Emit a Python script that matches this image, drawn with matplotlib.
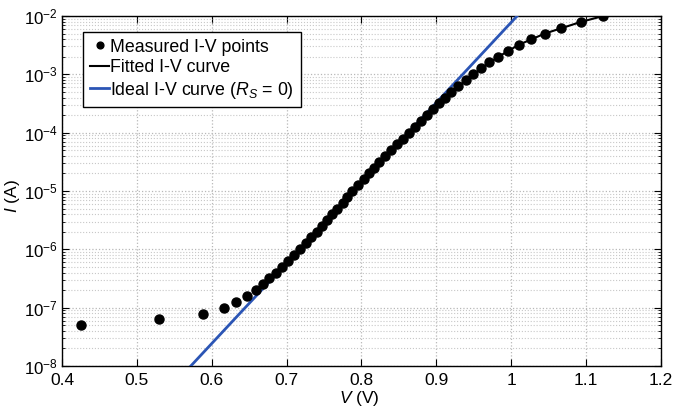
import matplotlib
matplotlib.use("Agg")
import matplotlib.pyplot as plt
from matplotlib.ticker import LogLocator, FixedLocator

plt.rcParams['font.family'] = ['Liberation Sans', 'DejaVu Sans']
plt.rcParams['mathtext.fontset'] = 'custom'
plt.rcParams['mathtext.rm'] = 'Liberation Sans'
plt.rcParams['mathtext.it'] = 'Liberation Sans:italic'
plt.rcParams['mathtext.bf'] = 'Liberation Sans:bold'

# Measured I-V points (V in volts, I in amps)
meas_v = [0.425, 0.530, 0.589, 0.616, 0.633, 0.647, 0.659, 0.668, 0.677, 0.686,
          0.694, 0.702, 0.710, 0.718, 0.726, 0.733, 0.740, 0.747, 0.754, 0.761,
          0.768, 0.775, 0.781, 0.788, 0.796, 0.803, 0.810, 0.817, 0.824, 0.832,
          0.840, 0.848, 0.855, 0.863, 0.872, 0.880, 0.888, 0.895, 0.903, 0.911,
          0.920, 0.929, 0.940, 0.949, 0.960, 0.971, 0.983, 0.996, 1.010, 1.027,
          1.045, 1.067, 1.093, 1.123]
meas_i = [5.0e-8, 6.3e-8, 7.9e-8, 1.0e-7, 1.26e-7, 1.6e-7, 2.0e-7, 2.5e-7, 3.2e-7, 4.0e-7,
          5.0e-7, 6.3e-7, 7.9e-7, 1.0e-6, 1.26e-6, 1.6e-6, 2.0e-6, 2.5e-6, 3.2e-6, 4.0e-6,
          5.0e-6, 6.3e-6, 7.9e-6, 1.0e-5, 1.26e-5, 1.6e-5, 2.0e-5, 2.5e-5, 3.2e-5, 4.0e-5,
          5.0e-5, 6.3e-5, 7.9e-5, 1.0e-4, 1.26e-4, 1.6e-4, 2.0e-4, 2.5e-4, 3.2e-4, 4.0e-4,
          5.0e-4, 6.3e-4, 7.9e-4, 1.0e-3, 1.26e-3, 1.6e-3, 2.0e-3, 2.5e-3, 3.2e-3, 4.0e-3,
          5.0e-3, 6.3e-3, 7.9e-3, 1.0e-2]

# Fitted I-V curve
fit_v = [0.668, 0.718, 0.788, 0.863, 0.895, 0.920, 0.940, 0.960, 0.983, 1.010,
         1.045, 1.093, 1.123]
fit_i = [2.5e-7, 1.0e-6, 1.0e-5, 1.0e-4, 2.5e-4, 5.0e-4, 7.9e-4, 1.26e-3, 2.0e-3, 3.2e-3,
         5.0e-3, 7.9e-3, 1.0e-2]

# Ideal I-V curve (Rs = 0)
ideal_v = [0.572, 1.008]
ideal_i = [1.0e-8, 1.0e-2]

x_ticks = [0.4, 0.5, 0.6, 0.7, 0.8, 0.9, 1.0, 1.1, 1.2]
x_labels = ['0.4', '0.5', '0.6', '0.7', '0.8', '0.9', '1', '1.1', '1.2']

fig = plt.figure(figsize=(6.75, 4.07), dpi=100)
ax = fig.add_axes([0.0919, 0.1007, 0.8871, 0.86])

blue = '#2b55b5'
ax.plot(fit_v, fit_i, color='black', lw=1.5, zorder=3, label='Fitted I-V curve')
ax.plot(ideal_v, ideal_i, color=blue, lw=2.0, zorder=4, label='Ideal I-V curve ($R_S$ = 0)')
ax.plot(meas_v, meas_i, 'o', color='black', ms=6.5, zorder=5, label='Measured I-V points')

ax.set_yscale('log')
ax.set_xlim(0.4, 1.2)
ax.set_ylim(1e-8, 1e-2)
ax.xaxis.set_major_locator(FixedLocator(x_ticks))
ax.set_xticklabels(x_labels)
ax.yaxis.set_major_locator(LogLocator(base=10, numticks=20))
ax.yaxis.set_minor_locator(LogLocator(base=10, subs=range(2, 10), numticks=20))

ax.grid(True, which='major', color='#b8b8b8', linestyle=':', linewidth=0.9)
ax.grid(True, which='minor', axis='y', color='#c8c8c8', linestyle=':', linewidth=0.8)

ax.tick_params(which='both', direction='in', top=True, right=True, labelsize=12.5, color='black')
ax.tick_params(axis='y', labelsize=12.2, pad=3)
ax.tick_params(which='major', length=5, width=0.8)
ax.tick_params(which='minor', length=2.5, width=0.6)
ax.tick_params(axis='x', pad=5)
for s in ax.spines.values():
    s.set_linewidth(1.0)

ax.set_xlabel('$\\it{V}$ (V)', fontsize=12.5)
ax.set_ylabel('$\\it{I}$ (A)', fontsize=12.5)
ax.xaxis.set_label_coords(0.496, -0.066)
ax.yaxis.set_label_coords(-0.082, 0.486)
ax.yaxis.label.set_va('center')

handles, labels = ax.get_legend_handles_labels()
order = [2, 0, 1]
leg = ax.legend([handles[i] for i in order], [labels[i] for i in order],
                loc='upper left', bbox_to_anchor=(0.035, 0.955), fontsize=12.8,
                handlelength=1.1, handletextpad=0.05, labelspacing=0.2,
                borderpad=0.38, borderaxespad=0, fancybox=False, framealpha=1,
                edgecolor='black', markerscale=0.75)
leg.get_frame().set_linewidth(1.0)

fig.savefig('out.png', dpi=100)
